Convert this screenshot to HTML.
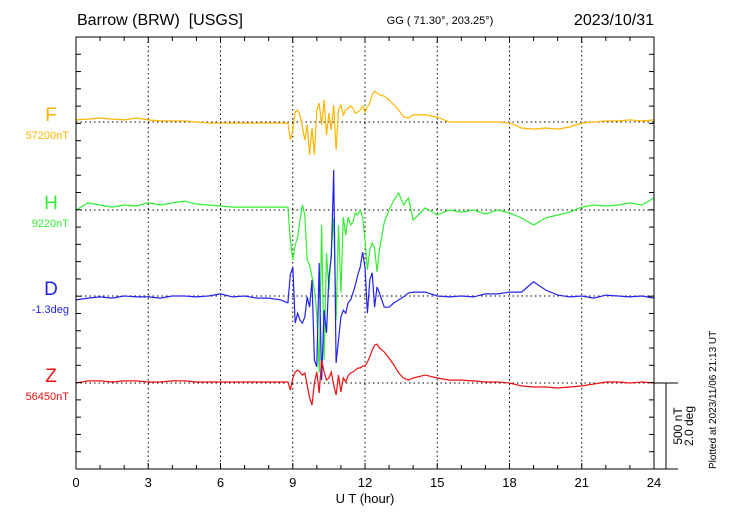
<!DOCTYPE html>
<html><head><meta charset="utf-8"><style>
body{margin:0;background:#fff;}
svg text{font-family:"Liberation Sans",sans-serif;}
</style></head><body>
<svg id="chart" width="730" height="520" xmlns="http://www.w3.org/2000/svg">
<text x="77" y="25" font-size="16" xml:space="preserve" style="white-space:pre">Barrow (BRW)  [USGS]</text>
<text x="440" y="24" font-size="11" text-anchor="middle">GG ( 71.30°, 203.25°)</text>
<text x="654" y="25" font-size="16" text-anchor="end">2023/10/31</text>
<g id="grid"></g>
<g id="series"></g>
<rect x="76" y="37" width="578" height="432" fill="none" stroke="#000" stroke-width="1"/>
<g id="axes"></g>
<text x="365" y="503" font-size="13" text-anchor="middle">U T (hour)</text>
<text transform="translate(682,426) rotate(-90)" font-size="12" text-anchor="middle">500 nT</text>
<text transform="translate(693,426) rotate(-90)" font-size="12" text-anchor="middle">2.0 deg</text>
<text transform="translate(716,469) rotate(-90)" font-size="10">Plotted at 2023/11/06 21:13 UT</text>
</svg>
<script>
const times=[0,0.5,1,1.5,2,2.5,3,3.5,4,4.5,5,5.5,6,6.5,7,7.5,8,8.5,8.8,8.9,9.0,9.1,9.2,9.3,9.4,9.5,9.6,9.7,9.8,9.9,10.0,10.1,10.2,10.3,10.4,10.5,10.6,10.7,10.8,10.9,11.0,11.1,11.2,11.3,11.4,11.5,11.6,11.7,11.8,11.9,12.0,12.1,12.2,12.3,12.4,12.5,12.6,12.8,13.0,13.2,13.4,13.6,13.8,14.0,14.5,15,15.5,16,16.5,17,17.5,18,18.5,19,19.5,20,20.5,21,21.5,22,22.5,23,23.5,24];
const fValues=[12,17,23,17,12,23,12,6,6,6,0,-6,-6,-6,-6,-6,-6,-6,-6,-104,-46,58,70,41,-30,-104,-17,-191,-35,-191,70,110,-17,128,-75,52,-46,99,-162,70,99,41,70,81,93,81,52,58,70,93,58,87,110,157,180,168,157,151,128,99,70,29,23,41,41,29,0,0,0,0,0,-6,-35,-41,-35,-41,-29,-6,0,6,6,12,6,12];
const hValues=[0,41,29,17,29,23,41,29,41,52,35,29,23,17,17,17,17,17,17,-174,-290,-203,-157,-58,29,-29,-290,-319,-389,-464,-597,-945,-87,-870,-249,-464,-232,-46,-638,-87,-481,-41,-145,-41,-87,-70,-17,-29,0,-41,-174,-348,-232,-191,-220,-360,-232,-70,0,58,99,29,70,-58,12,-29,0,-12,0,-23,0,-17,-46,-87,-46,-29,-12,17,29,23,29,41,29,70];
const dValues=[-0.09,-0.05,-0.02,-0.05,0,-0.02,-0.02,-0.05,0,0,-0.02,0,0.05,-0.02,0,-0.05,-0.05,-0.09,-0.16,0.49,0.67,-0.63,-0.40,-0.56,-0.63,-0.49,-0.02,-0.26,0.37,-1.49,-1.65,0.77,-1.96,-0.33,-0.86,0.44,0.91,2.93,-1.56,-1.02,-0.49,-0.33,-0.40,-0.16,-0.09,0.07,0.26,0.49,0.67,1.02,0.67,-0.40,0.37,0.54,-0.26,0.21,0.07,-0.26,-0.26,-0.16,-0.09,-0.02,0.07,0.09,0.09,0,-0.02,0,-0.02,0.05,0.05,0.09,0.09,0.33,0.14,0.02,-0.02,0,-0.05,0.02,0,-0.02,0,-0.05];
const zValues=[0,12,12,6,12,12,6,6,12,12,6,6,6,6,6,6,6,6,6,-41,29,64,75,64,46,58,-12,-87,-128,0,64,-58,133,64,17,29,64,-12,-70,46,-52,29,6,41,58,64,75,87,87,99,99,122,151,191,220,226,203,180,145,104,58,29,17,29,46,29,17,17,12,6,6,0,-17,-23,-23,-29,-23,-17,-6,6,6,0,6,0];
const xTickLabels=["0","3","6","9","12","15","18","21","24"];
const seriesNames=["F","H","D","Z"];
const baseLabels=["57200nT","9220nT","-1.3deg","56450nT"];
const NS="http://www.w3.org/2000/svg";
const X0=76,X1=654,Y0=37,Y1=469;
const xs=h=>X0+(X1-X0)*h/24;
const pxPerNT=86/500, pxPerDeg=86/2;
const baselines=[122,210,296,383];
const colors=["#ffb400","#33ee33","#2222ee","#ee1111"];
function mk(tag,attrs,parent){const e=document.createElementNS(NS,tag);for(const k in attrs)e.setAttribute(k,attrs[k]);parent.appendChild(e);return e;}
const grid=document.getElementById('grid'),axes=document.getElementById('axes'),ser=document.getElementById('series');
for(let i=1;i<8;i++){const l=mk('line',{x1:xs(i*3),x2:xs(i*3),y1:Y0,y2:Y1,stroke:'#000','stroke-dasharray':'1.5,3','stroke-width':1},grid);

}
baselines.forEach(b=>{const l=mk('line',{x1:X0,x2:X1,y1:b,y2:b,stroke:'#000','stroke-dasharray':'1.5,3','stroke-width':1},grid);

});
for(let h=0;h<=24;h++){const len=h%3===0?6:4;
mk('line',{x1:xs(h),x2:xs(h),y1:Y1,y2:Y1-len,stroke:'#000'},axes);
mk('line',{x1:xs(h),x2:xs(h),y1:Y0,y2:Y0+len,stroke:'#000'},axes);}
for(let k=0;k<=25;k++){const y=Y0+k*(Y1-Y0)/25;
mk('line',{x1:X0,x2:X0+5,y1:y,y2:y,stroke:'#000'},axes);
mk('line',{x1:X1,x2:X1-5,y1:y,y2:y,stroke:'#000'},axes);}
mk('line',{x1:X1,x2:678,y1:Y1,y2:Y1,stroke:'#000'},axes);
mk('line',{x1:X1,x2:678,y1:383,y2:383,stroke:'#000'},axes);
const sb=mk('line',{x1:666,x2:666,y1:383,y2:Y1,stroke:'#000'},axes);


xTickLabels.forEach((t,i)=>{const e=mk('text',{x:xs(i*3),y:487,'font-size':13,'text-anchor':'middle'},axes);e.textContent=t;

});
const data=[fValues,hValues,dValues,zValues];
data.forEach((vals,s)=>{const sc=s===2?pxPerDeg:pxPerNT;
const pts=times.map((t,i)=>xs(t).toFixed(1)+','+(baselines[s]-vals[i]*sc).toFixed(1)).join(' ');
const p=mk('polyline',{points:pts,fill:'none',stroke:colors[s],'stroke-width':1.2},ser);


const n=mk('text',{x:51,y:baselines[s]-1,'font-size':19,'text-anchor':'middle',fill:colors[s]},ser);n.textContent=seriesNames[s];


const b=mk('text',{x:69,y:baselines[s]+17,'font-size':11,'text-anchor':'end',fill:colors[s]},ser);b.textContent=baseLabels[s];

});
</script>
</body></html>
